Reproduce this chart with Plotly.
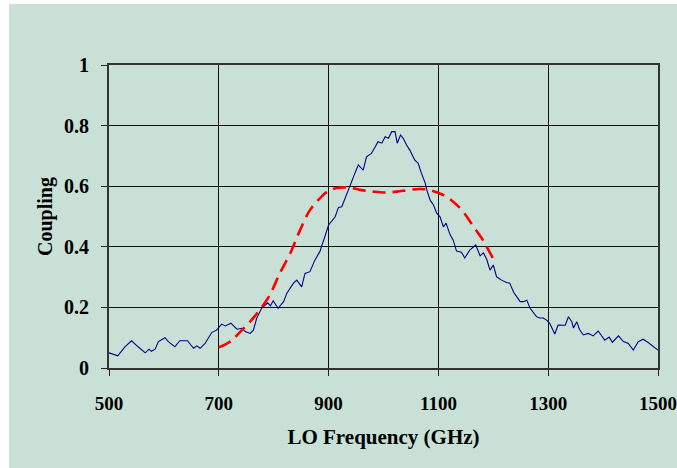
import plotly.graph_objects as go

# Measured coupling vs LO frequency
meas_freq = [500, 516, 529, 541, 553, 566, 573, 577, 584, 590, 602, 608, 620, 629, 643, 654, 660, 666, 675,
             687, 696, 705, 712, 722, 733, 742, 748, 757, 763, 769, 778, 789, 794, 799, 808, 818, 824, 836,
             842, 851, 857, 866, 875, 884, 893, 900, 912, 918, 924, 933, 942, 948, 954, 963, 969, 978, 985,
             990, 997, 1003, 1009, 1015, 1021, 1025, 1031, 1036, 1042, 1048, 1057, 1063, 1069, 1076, 1079,
             1085, 1091, 1097, 1103, 1109, 1114, 1121, 1127, 1133, 1142, 1148, 1157, 1168, 1176, 1182, 1188,
             1194, 1200, 1206, 1215, 1224, 1230, 1237, 1249, 1255, 1261, 1267, 1279, 1285, 1291, 1297, 1303,
             1312, 1318, 1331, 1337, 1343, 1346, 1352, 1357, 1364, 1373, 1382, 1391, 1403, 1411, 1417, 1428,
             1437, 1446, 1455, 1464, 1473, 1482, 1491, 1500]
meas_coupling = [0.050, 0.040, 0.070, 0.090, 0.070, 0.050, 0.062, 0.055, 0.062, 0.087, 0.100, 0.087, 0.070,
                 0.090, 0.090, 0.065, 0.073, 0.065, 0.081, 0.117, 0.125, 0.145, 0.139, 0.148, 0.128, 0.131,
                 0.120, 0.114, 0.125, 0.164, 0.197, 0.215, 0.205, 0.222, 0.197, 0.219, 0.247, 0.280, 0.290,
                 0.268, 0.312, 0.318, 0.356, 0.384, 0.433, 0.472, 0.499, 0.530, 0.532, 0.576, 0.615, 0.643,
                 0.670, 0.653, 0.697, 0.708, 0.730, 0.747, 0.742, 0.763, 0.758, 0.780, 0.780, 0.742, 0.769,
                 0.758, 0.736, 0.719, 0.686, 0.676, 0.643, 0.610, 0.587, 0.554, 0.538, 0.511, 0.499, 0.466,
                 0.478, 0.441, 0.422, 0.386, 0.382, 0.363, 0.389, 0.406, 0.370, 0.380, 0.359, 0.323, 0.340,
                 0.301, 0.290, 0.282, 0.280, 0.250, 0.219, 0.219, 0.224, 0.197, 0.169, 0.165, 0.165, 0.158,
                 0.147, 0.112, 0.142, 0.141, 0.169, 0.153, 0.132, 0.153, 0.127, 0.109, 0.114, 0.106, 0.122,
                 0.092, 0.102, 0.085, 0.106, 0.087, 0.081, 0.059, 0.087, 0.095, 0.084, 0.070, 0.059]

# Predicted coupling (700-1200 GHz)
model_freq = [700, 723, 735, 754, 766, 781, 793, 811, 830, 848, 866, 884, 900, 918, 939, 960, 981, 1003,
              1024, 1045, 1066, 1085, 1109, 1127, 1145, 1162, 1179, 1188, 1200]
model_coupling = [0.068, 0.090, 0.112, 0.147, 0.172, 0.208, 0.241, 0.312, 0.378, 0.455, 0.521, 0.560, 0.585,
                  0.595, 0.595, 0.587, 0.582, 0.579, 0.582, 0.587, 0.591, 0.587, 0.571, 0.549, 0.516, 0.472,
                  0.428, 0.400, 0.360]

x_ticks = [500, 700, 900, 1100, 1300, 1500]
y_ticks = [0, 0.2, 0.4, 0.6, 0.8, 1]
y_tick_text = ["0", "0.2", "0.4", "0.6", "0.8", "1"]

BG = "#C9E0D7"
FONT = "Liberation Serif"

fig = go.Figure()
fig.add_trace(go.Scatter(x=meas_freq, y=meas_coupling, mode="lines",
                         line=dict(color="#000080", width=1.1), showlegend=False))
fig.add_trace(go.Scatter(x=model_freq, y=model_coupling, mode="lines", line_shape="spline",
                         line=dict(color="#FF0000", width=2.6, dash="13px,7px"), showlegend=False))

W, H = 677, 468
L, R, T, B = 109, 19, 65, 100
pw, ph = W - L - R, H - T - B

# green chart area with a thin white strip on the left and top
fig.add_shape(type="rect", xref="paper", yref="paper", layer="below",
              x0=(9 - L) / pw, x1=(W - L) / pw, y0=-(B) / ph, y1=(H - B - 4) / ph,
              fillcolor=BG, line=dict(width=0))

axis_font = dict(family=FONT, size=20, color="black")
fig.update_layout(
    width=W, height=H,
    margin=dict(l=L, r=R, t=T, b=B, autoexpand=False),
    paper_bgcolor="white",
    plot_bgcolor=BG,
    font=dict(family=FONT, color="black"),
    xaxis=dict(range=[500, 1500], tickvals=x_ticks, ticktext=["<b>%d</b>" % v for v in x_ticks],
               tickfont=dict(family=FONT, size=19, color="black"), ticks="outside", ticklen=6, tickcolor="#222",
               ticklabeloverflow="allow", automargin=False,
               showgrid=True, gridcolor="#111", gridwidth=1,
               showline=True, linecolor="#333", linewidth=2, mirror=True, zeroline=False,
               ticklabelstandoff=11,
               title=dict(text="<b>LO Frequency (GHz)</b>", font=dict(family=FONT, size=21), standoff=17)),
    yaxis=dict(range=[0, 1], tickvals=y_ticks, ticktext=["<b>%s</b>" % t for t in y_tick_text],
               tickfont=axis_font, ticks="outside", ticklen=6, tickcolor="#222",
               automargin=False,
               showgrid=True, gridcolor="#111", gridwidth=1,
               showline=True, linecolor="#333", linewidth=2, mirror=True, zeroline=False,
               ticklabelstandoff=8,
               title=dict(text="<b>Coupling</b>", font=dict(family=FONT, size=20), standoff=6)),
)

fig.write_html("out.html")
